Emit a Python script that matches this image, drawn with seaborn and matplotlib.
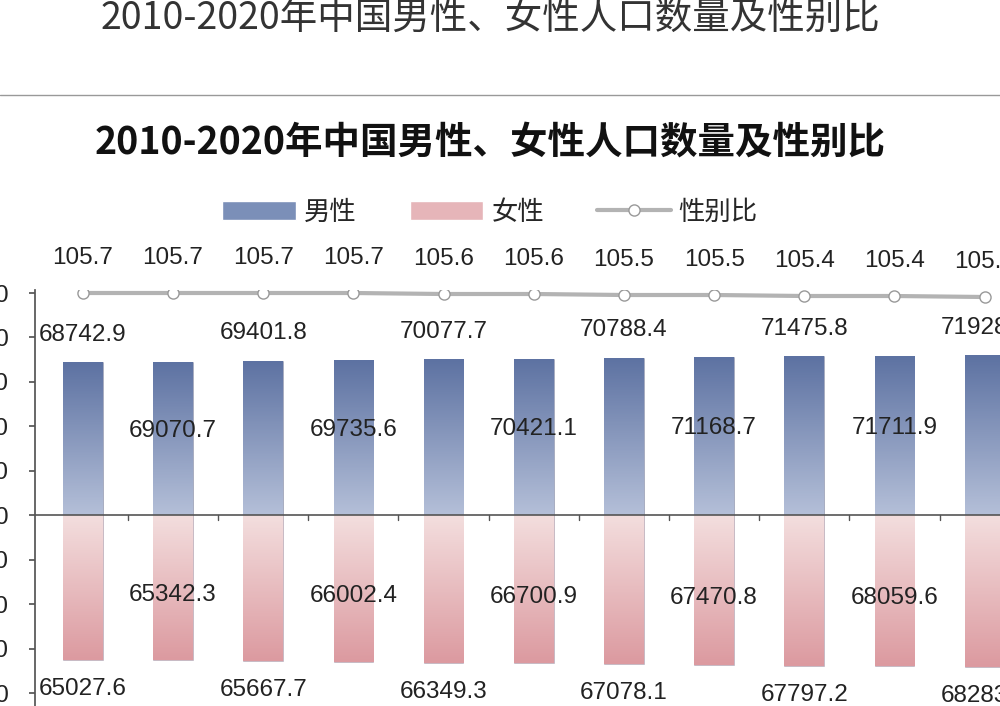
import numpy as np
import pandas as pd
import matplotlib
matplotlib.use("Agg")
import matplotlib.pyplot as plt
import seaborn as sns
from matplotlib.lines import Line2D
from matplotlib.patches import Patch

years = [str(y) for y in range(2010, 2021)]
male = [68742.9, 69070.7, 69401.8, 69735.6, 70077.7, 70421.1, 70788.4, 71168.7, 71475.8, 71711.9, 71928.0]
female = [65027.6, 65342.3, 65667.7, 66002.4, 66349.3, 66700.9, 67078.1, 67470.8, 67797.2, 68059.6, 68283.0]
ratio = [105.7, 105.7, 105.7, 105.7, 105.6, 105.6, 105.5, 105.5, 105.4, 105.4, 105.3]
yticks = [-80000, -60000, -40000, -20000, 0, 20000, 40000, 60000, 80000, 100000]

sns.set_theme(style="white")
plt.rcParams['font.family'] = ['Noto Sans CJK SC', 'DejaVu Sans']
NUM = ['Liberation Sans', 'DejaVu Sans']

fig = plt.figure(figsize=(10, 7.06), dpi=100)
W, H = 1000, 706
ax = fig.add_axes([35 / W, 0, (W - 35) / W, (706 - 290) / H])

df = pd.DataFrame({"year": years * 2,
                   "value": male + [-v for v in female],
                   "sex": ["男性"] * 11 + ["女性"] * 11})
sns.barplot(data=df, x="year", y="value", hue="sex", dodge=False,
            palette={"男性": "#7b8fb8", "女性": "#e6b5b9"}, width=0.44,
            ax=ax, legend=False, edgecolor="none")

blue = matplotlib.colors.LinearSegmentedColormap.from_list("b", ["#b4bfd8", "#5d72a2"])
pink = matplotlib.colors.LinearSegmentedColormap.from_list("p", ["#dc9aa0", "#f3dede"])
for p in list(ax.patches):
    x0, y0 = p.get_x(), p.get_y()
    w, h = p.get_width(), p.get_height()
    top, bot = max(y0, y0 + h), min(y0, y0 + h)
    grad = np.linspace(0, 1, 100).reshape(-1, 1)
    cm = blue if top > 0 else pink
    im = ax.imshow(grad, cmap=cm, extent=[x0, x0 + w, bot, top], origin="lower",
                   aspect="auto", zorder=2)
    im.set_clip_path(p)
    p.set_edgecolor((0.5, 0.5, 0.6, 0.5))
    p.set_linewidth(0.5)
ax.set_xlim(-0.53, 10.17)
ax.set_ylim(-85850, 101350)

ax.axhline(0, color="#555555", lw=1.2, zorder=3)
for i in range(11):
    ax.plot([i + 0.5, i + 0.5], [0, -2000], color="#555555", lw=1, zorder=3)

fs = 17.5
for i in range(11):
    if i % 2 == 0:
        ax.text(i, male[i] + 12500, f"{male[i]:.1f}", ha="center", va="center", fontsize=fs, color="#222222", zorder=5, family=NUM)
        ax.text(i, -female[i] - 13000, f"{female[i]:.1f}", ha="center", va="center", fontsize=fs, color="#222222", zorder=5, family=NUM)
    else:
        ax.text(i, male[i] * 0.55, f"{male[i]:.1f}", ha="center", va="center", fontsize=fs, color="#222222", zorder=5, family=NUM)
        ax.text(i, -female[i] * 0.55, f"{female[i]:.1f}", ha="center", va="center", fontsize=fs, color="#222222", zorder=5, family=NUM)

ax.set_yticks(yticks)
ax.set_yticklabels([str(abs(t)) for t in yticks], fontsize=fs, color="#222222", family=NUM)
ax.tick_params(axis="y", direction="out", length=4, pad=15, left=True, color="#555555")
ax.set_xticks([])
ax.set_xlabel("")
ax.set_ylabel("")
for s in ["top", "right", "bottom"]:
    ax.spines[s].set_visible(False)
ax.spines["left"].set_color("#555555")
ax.patch.set_alpha(0)

ax2 = ax.twinx()
ax2.set_ylim(64.4, 106.0)
ax2.plot(range(11), ratio, color="#b3b3b3", lw=3, marker="o", markersize=8,
         markerfacecolor="white", markeredgecolor="#999999", zorder=6)
for i, r in enumerate(ratio):
    ax2.text(i, r + 3.5, f"{r:.1f}", ha="center", va="center", fontsize=fs, color="#222222", family=NUM)
ax2.set_yticks([])
for s in ax2.spines.values():
    s.set_visible(False)
ax2.set_xlim(-0.53, 10.17)

fig.text(0.49, 1 - 18 / H, "2010-2020年中国男性、女性人口数量及性别比", ha="center", va="center",
         fontsize=27, color="#333333")
fig.add_artist(Line2D([0, 1], [1 - 95 / H, 1 - 95 / H], color="#999999", lw=1))
fig.text(0.49, 1 - 142 / H, "2010-2020年中国男性、女性人口数量及性别比", ha="center", va="center",
         fontsize=27, fontweight="bold", color="#111111")

handles = [Patch(facecolor="#7b8fb8"), Patch(facecolor="#e6b5b9"),
           Line2D([], [], color="#b3b3b3", lw=3, marker="o", markersize=8,
                  markerfacecolor="white", markeredgecolor="#999999")]
fig.legend(handles, ["男性", "女性", "性别比"], loc="center", bbox_to_anchor=(0.49, 1 - 212 / H),
           ncol=3, frameon=False, fontsize=19, handlelength=2.8, handletextpad=0.3, columnspacing=2.0)

fig.savefig("out.png", dpi=100)
